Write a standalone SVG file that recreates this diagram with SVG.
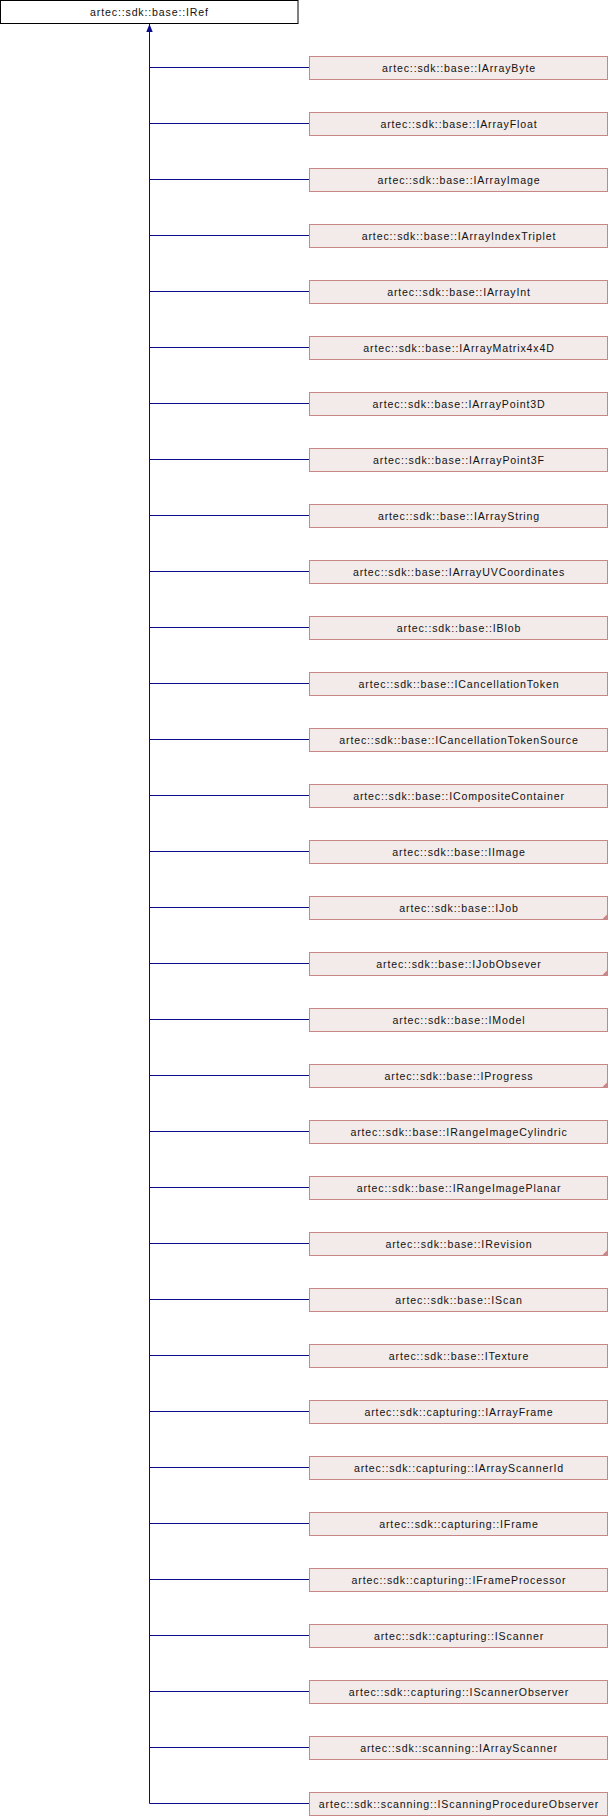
<svg xmlns="http://www.w3.org/2000/svg" width="608" height="1816" viewBox="0 0 608 1816">
<style>
.n rect{fill:#f3ebea;stroke:#c88686;stroke-width:1}
.n text{font-family:"Liberation Sans",Arial,sans-serif;font-size:10.6px;letter-spacing:0.85px;fill:#111;text-anchor:middle}
#root rect{fill:#fff;stroke:#000}
.e line{stroke:#0a0a8c;stroke-width:1}
.t{fill:#c88686}
</style>
<defs>
<marker id="ah" markerWidth="9" markerHeight="8" refX="8" refY="4" orient="auto" markerUnits="userSpaceOnUse" viewBox="0 0 9 8"><polygon points="8,4 0,0.8 0,7.2" fill="#0a0a8c"/></marker>
</defs>
<g id="connectors" class="e">
<line x1="149.5" y1="1803.5" x2="149.5" y2="24" marker-end="url(#ah)"/>
<line x1="149.5" y1="67.5" x2="309" y2="67.5"/>
<line x1="149.5" y1="123.5" x2="309" y2="123.5"/>
<line x1="149.5" y1="179.5" x2="309" y2="179.5"/>
<line x1="149.5" y1="235.5" x2="309" y2="235.5"/>
<line x1="149.5" y1="291.5" x2="309" y2="291.5"/>
<line x1="149.5" y1="347.5" x2="309" y2="347.5"/>
<line x1="149.5" y1="403.5" x2="309" y2="403.5"/>
<line x1="149.5" y1="459.5" x2="309" y2="459.5"/>
<line x1="149.5" y1="515.5" x2="309" y2="515.5"/>
<line x1="149.5" y1="571.5" x2="309" y2="571.5"/>
<line x1="149.5" y1="627.5" x2="309" y2="627.5"/>
<line x1="149.5" y1="683.5" x2="309" y2="683.5"/>
<line x1="149.5" y1="739.5" x2="309" y2="739.5"/>
<line x1="149.5" y1="795.5" x2="309" y2="795.5"/>
<line x1="149.5" y1="851.5" x2="309" y2="851.5"/>
<line x1="149.5" y1="907.5" x2="309" y2="907.5"/>
<line x1="149.5" y1="963.5" x2="309" y2="963.5"/>
<line x1="149.5" y1="1019.5" x2="309" y2="1019.5"/>
<line x1="149.5" y1="1075.5" x2="309" y2="1075.5"/>
<line x1="149.5" y1="1131.5" x2="309" y2="1131.5"/>
<line x1="149.5" y1="1187.5" x2="309" y2="1187.5"/>
<line x1="149.5" y1="1243.5" x2="309" y2="1243.5"/>
<line x1="149.5" y1="1299.5" x2="309" y2="1299.5"/>
<line x1="149.5" y1="1355.5" x2="309" y2="1355.5"/>
<line x1="149.5" y1="1411.5" x2="309" y2="1411.5"/>
<line x1="149.5" y1="1467.5" x2="309" y2="1467.5"/>
<line x1="149.5" y1="1523.5" x2="309" y2="1523.5"/>
<line x1="149.5" y1="1579.5" x2="309" y2="1579.5"/>
<line x1="149.5" y1="1635.5" x2="309" y2="1635.5"/>
<line x1="149.5" y1="1691.5" x2="309" y2="1691.5"/>
<line x1="149.5" y1="1747.5" x2="309" y2="1747.5"/>
<line x1="149.5" y1="1803.5" x2="309" y2="1803.5"/>
</g>
<g id="root" class="n"><rect x="0.5" y="0.5" width="297.5" height="23"/><text x="149.5" y="16">artec::sdk::base::IRef</text></g>
<g id="c0" class="n"><rect x="309.5" y="56.5" width="298" height="23"/><text x="459" y="72">artec::sdk::base::IArrayByte</text></g>
<g id="c1" class="n"><rect x="309.5" y="112.5" width="298" height="23"/><text x="459" y="128">artec::sdk::base::IArrayFloat</text></g>
<g id="c2" class="n"><rect x="309.5" y="168.5" width="298" height="23"/><text x="459" y="184">artec::sdk::base::IArrayImage</text></g>
<g id="c3" class="n"><rect x="309.5" y="224.5" width="298" height="23"/><text x="459" y="240">artec::sdk::base::IArrayIndexTriplet</text></g>
<g id="c4" class="n"><rect x="309.5" y="280.5" width="298" height="23"/><text x="459" y="296">artec::sdk::base::IArrayInt</text></g>
<g id="c5" class="n"><rect x="309.5" y="336.5" width="298" height="23"/><text x="459" y="352">artec::sdk::base::IArrayMatrix4x4D</text></g>
<g id="c6" class="n"><rect x="309.5" y="392.5" width="298" height="23"/><text x="459" y="408">artec::sdk::base::IArrayPoint3D</text></g>
<g id="c7" class="n"><rect x="309.5" y="448.5" width="298" height="23"/><text x="459" y="464">artec::sdk::base::IArrayPoint3F</text></g>
<g id="c8" class="n"><rect x="309.5" y="504.5" width="298" height="23"/><text x="459" y="520">artec::sdk::base::IArrayString</text></g>
<g id="c9" class="n"><rect x="309.5" y="560.5" width="298" height="23"/><text x="459" y="576">artec::sdk::base::IArrayUVCoordinates</text></g>
<g id="c10" class="n"><rect x="309.5" y="616.5" width="298" height="23"/><text x="459" y="632">artec::sdk::base::IBlob</text></g>
<g id="c11" class="n"><rect x="309.5" y="672.5" width="298" height="23"/><text x="459" y="688">artec::sdk::base::ICancellationToken</text></g>
<g id="c12" class="n"><rect x="309.5" y="728.5" width="298" height="23"/><text x="459" y="744">artec::sdk::base::ICancellationTokenSource</text></g>
<g id="c13" class="n"><rect x="309.5" y="784.5" width="298" height="23"/><text x="459" y="800">artec::sdk::base::ICompositeContainer</text></g>
<g id="c14" class="n"><rect x="309.5" y="840.5" width="298" height="23"/><text x="459" y="856">artec::sdk::base::IImage</text></g>
<g id="c15" class="n"><rect x="309.5" y="896.5" width="298" height="23"/><polygon class="t" points="607.5,914 607.5,919.5 602,919.5"/><text x="459" y="912">artec::sdk::base::IJob</text></g>
<g id="c16" class="n"><rect x="309.5" y="952.5" width="298" height="23"/><polygon class="t" points="607.5,970 607.5,975.5 602,975.5"/><text x="459" y="968">artec::sdk::base::IJobObsever</text></g>
<g id="c17" class="n"><rect x="309.5" y="1008.5" width="298" height="23"/><text x="459" y="1024">artec::sdk::base::IModel</text></g>
<g id="c18" class="n"><rect x="309.5" y="1064.5" width="298" height="23"/><polygon class="t" points="607.5,1082 607.5,1087.5 602,1087.5"/><text x="459" y="1080">artec::sdk::base::IProgress</text></g>
<g id="c19" class="n"><rect x="309.5" y="1120.5" width="298" height="23"/><text x="459" y="1136">artec::sdk::base::IRangeImageCylindric</text></g>
<g id="c20" class="n"><rect x="309.5" y="1176.5" width="298" height="23"/><text x="459" y="1192">artec::sdk::base::IRangeImagePlanar</text></g>
<g id="c21" class="n"><rect x="309.5" y="1232.5" width="298" height="23"/><polygon class="t" points="607.5,1250 607.5,1255.5 602,1255.5"/><text x="459" y="1248">artec::sdk::base::IRevision</text></g>
<g id="c22" class="n"><rect x="309.5" y="1288.5" width="298" height="23"/><text x="459" y="1304">artec::sdk::base::IScan</text></g>
<g id="c23" class="n"><rect x="309.5" y="1344.5" width="298" height="23"/><text x="459" y="1360">artec::sdk::base::ITexture</text></g>
<g id="c24" class="n"><rect x="309.5" y="1400.5" width="298" height="23"/><text x="459" y="1416">artec::sdk::capturing::IArrayFrame</text></g>
<g id="c25" class="n"><rect x="309.5" y="1456.5" width="298" height="23"/><text x="459" y="1472">artec::sdk::capturing::IArrayScannerId</text></g>
<g id="c26" class="n"><rect x="309.5" y="1512.5" width="298" height="23"/><text x="459" y="1528">artec::sdk::capturing::IFrame</text></g>
<g id="c27" class="n"><rect x="309.5" y="1568.5" width="298" height="23"/><text x="459" y="1584">artec::sdk::capturing::IFrameProcessor</text></g>
<g id="c28" class="n"><rect x="309.5" y="1624.5" width="298" height="23"/><text x="459" y="1640">artec::sdk::capturing::IScanner</text></g>
<g id="c29" class="n"><rect x="309.5" y="1680.5" width="298" height="23"/><text x="459" y="1696">artec::sdk::capturing::IScannerObserver</text></g>
<g id="c30" class="n"><rect x="309.5" y="1736.5" width="298" height="23"/><text x="459" y="1752">artec::sdk::scanning::IArrayScanner</text></g>
<g id="c31" class="n"><rect x="309.5" y="1792.5" width="298" height="23"/><text x="459" y="1808">artec::sdk::scanning::IScanningProcedureObserver</text></g>
</svg>
